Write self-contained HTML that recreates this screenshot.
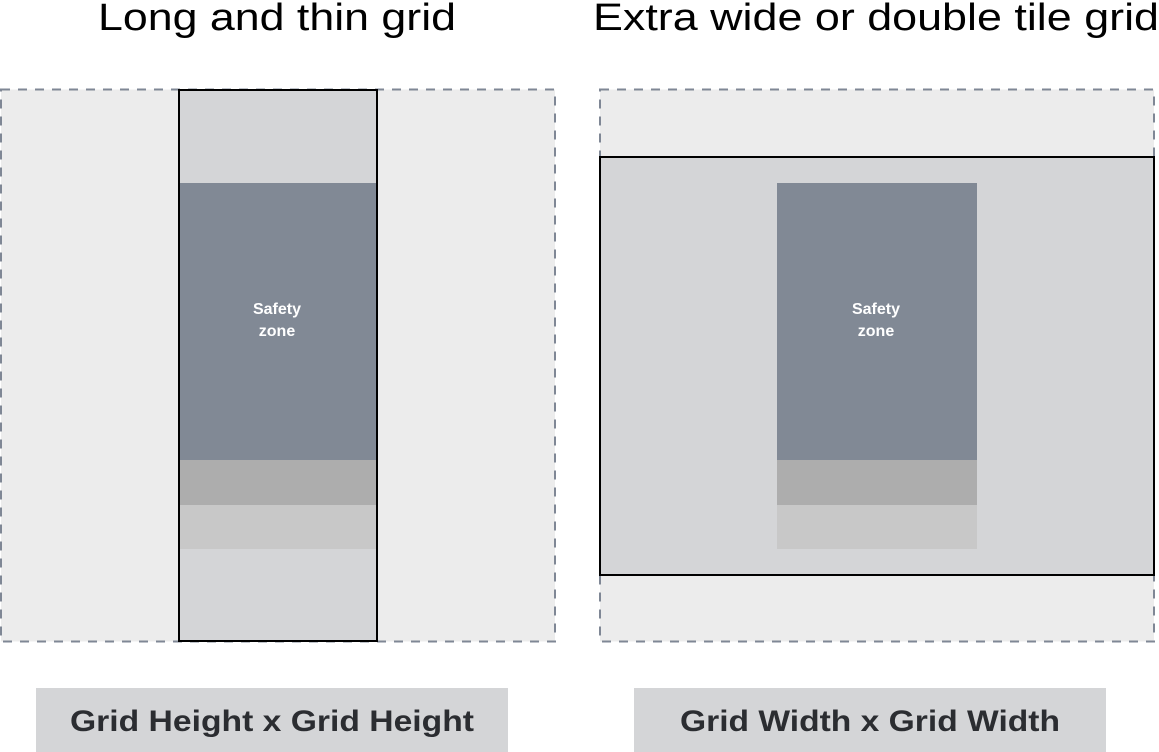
<!DOCTYPE html>
<html><head><meta charset="utf-8"><style>
html,body{margin:0;padding:0;background:#fff;}
svg{display:block;}
</style></head><body>
<svg width="1159" height="752" viewBox="0 0 1159 752" xmlns="http://www.w3.org/2000/svg">
<rect x="0" y="0" width="1159" height="752" fill="#fff"/>
<text x="277" y="30" font-family="Liberation Sans, sans-serif" font-size="38" fill="#000" text-anchor="middle" textLength="358" lengthAdjust="spacingAndGlyphs">Long and thin grid</text>
<text x="876" y="30" font-family="Liberation Sans, sans-serif" font-size="38" fill="#000" text-anchor="middle" textLength="566" lengthAdjust="spacingAndGlyphs">Extra wide or double tile grid</text>

<!-- left -->
<rect x="1" y="89.5" width="554" height="552" fill="#ececec" stroke="#7f8795" stroke-width="2" stroke-dasharray="9,8"/>
<rect x="179" y="90" width="198" height="551" fill="#d4d5d7" stroke="#000" stroke-width="2"/>
<rect x="180" y="183" width="196" height="277" fill="#818995"/>
<rect x="180" y="460" width="196" height="45" fill="#adadad"/>
<rect x="180" y="505" width="196" height="44" fill="#c8c8c8"/>
<text x="277" y="314" font-family="Liberation Sans, sans-serif" font-size="16" font-weight="bold" fill="#fff" text-anchor="middle">Safety</text>
<text x="277" y="336" font-family="Liberation Sans, sans-serif" font-size="16" font-weight="bold" fill="#fff" text-anchor="middle">zone</text>

<!-- right -->
<rect x="600" y="89.5" width="554" height="552" fill="#ececec" stroke="#7f8795" stroke-width="2" stroke-dasharray="9,8"/>
<rect x="600" y="157" width="554" height="418" fill="#d4d5d7" stroke="#000" stroke-width="2"/>
<rect x="777" y="183" width="200" height="277" fill="#818995"/>
<rect x="777" y="460" width="200" height="45" fill="#adadad"/>
<rect x="777" y="505" width="200" height="44" fill="#c8c8c8"/>
<text x="876" y="314" font-family="Liberation Sans, sans-serif" font-size="16" font-weight="bold" fill="#fff" text-anchor="middle">Safety</text>
<text x="876" y="336" font-family="Liberation Sans, sans-serif" font-size="16" font-weight="bold" fill="#fff" text-anchor="middle">zone</text>

<!-- labels -->
<rect x="36" y="688" width="472" height="64" fill="#d4d5d7"/>
<text x="272" y="731" font-family="Liberation Sans, sans-serif" font-size="30" font-weight="bold" fill="#2b2d31" text-anchor="middle" textLength="404" lengthAdjust="spacingAndGlyphs">Grid Height x Grid Height</text>
<rect x="634" y="688" width="472" height="64" fill="#d4d5d7"/>
<text x="870" y="731" font-family="Liberation Sans, sans-serif" font-size="30" font-weight="bold" fill="#2b2d31" text-anchor="middle" textLength="380" lengthAdjust="spacingAndGlyphs">Grid Width x Grid Width</text>
</svg>
</body></html>
